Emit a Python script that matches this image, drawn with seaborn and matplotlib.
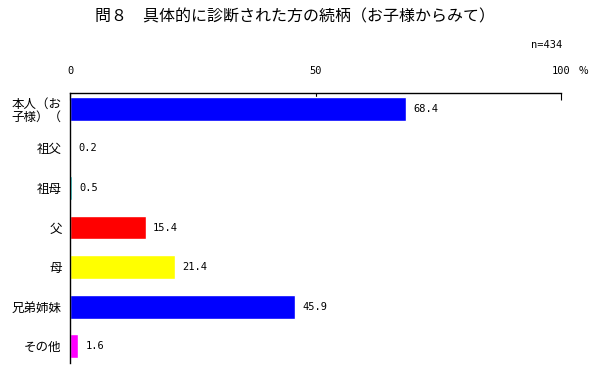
import matplotlib
matplotlib.use("Agg")
import matplotlib.pyplot as plt
import seaborn as sns
import pandas as pd

# data
categories = ["本人（お\n子様）（", "祖父", "祖母", "父", "母", "兄弟姉妹", "その他"]
values = [68.4, 0.2, 0.5, 15.4, 21.4, 45.9, 1.6]
colors = ["#0000ff", "#00b050", "#00c0c0", "#ff0000", "#ffff00", "#0000ff", "#ff00ff"]
xticks = [0, 50, 100]

df = pd.DataFrame({"cat": categories, "val": values})

sns.set_style("white")
plt.rcParams["font.family"] = ["Noto Sans CJK JP", "DejaVu Sans"]
plt.rcParams["text.color"] = "black"
plt.rcParams["xtick.color"] = "black"
plt.rcParams["ytick.color"] = "black"

fig = plt.figure(figsize=(6, 3.74), dpi=100)
ax = fig.add_axes([70 / 600, 1 - 363 / 374, (561 - 70) / 600, (363 - 93) / 374])

sns.barplot(data=df, x="val", y="cat", hue="cat", palette=colors,
            legend=False, width=0.6, saturation=1, ax=ax, orient="h")

ax.set_xlim(0, 100)
ax.set_ylim(6.42, -0.4)

# value labels
for i, v in enumerate(values):
    ax.text(v + 1.5, i, f"{v:.1f}", va="center", ha="left", fontsize=7.5,
            family="DejaVu Sans Mono")

# frame: only top and left lines
for s in ["right", "bottom"]:
    ax.spines[s].set_visible(False)
for s in ["top", "left"]:
    ax.spines[s].set_color("black")
    ax.spines[s].set_linewidth(1)

ax.xaxis.tick_top()
ax.set_xticks(xticks)
ax.set_xticklabels([str(t) for t in xticks], fontsize=7.5, family="DejaVu Sans Mono")
ax.tick_params(axis="x", direction="in", length=5, pad=12, color="black")
ax.tick_params(axis="y", length=0, pad=6, labelsize=9)
ax.set_xlabel("")
ax.set_ylabel("")
for lbl in ax.get_yticklabels():
    lbl.set_multialignment("right")
    lbl.set_linespacing(1.0)

fig.text(583 / 600, 1 - 71 / 374, "%", fontsize=7.5, ha="center", va="center")
fig.text(562 / 600, 1 - 45 / 374, "n=434", fontsize=7.5, ha="right", va="center",
         family="DejaVu Sans Mono")
fig.text(295 / 600, 1 - 17 / 374, "問８　具体的に診断された方の続柄（お子様からみて）",
         fontsize=11.5, ha="center", va="center")

fig.savefig("out.png", dpi=100)
